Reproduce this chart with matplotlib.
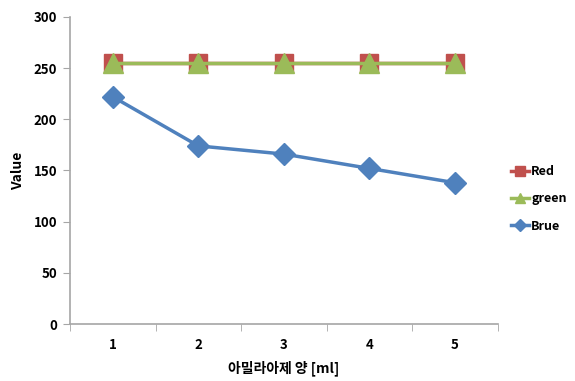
import matplotlib.pyplot as plt
import numpy as np

plt.rcParams['font.family'] = ['Noto Sans CJK KR', 'DejaVu Sans']

# data
amounts = [1, 2, 3, 4, 5]
red = [255, 255, 255, 255, 255]
green = [255, 255, 255, 255, 255]
brue = [222, 174, 166, 152, 138]

fig = plt.figure(figsize=(5.75, 3.81), dpi=100)
ax = fig.add_axes([0.1217, 0.1496, 0.744, 0.806])

ax.plot(amounts, red, color='#C0504D', lw=2.5, marker='s', ms=12.5, label='Red')
ax.plot(amounts, green, color='#9BBB59', lw=2.5, marker='^', ms=14, label='green')
ax.plot(amounts, brue, color='#4F81BD', lw=2.5, marker='D', ms=11, label='Brue')

ax.set_xlim(0.5, 5.5)
ax.set_ylim(0, 300)
ax.set_yticks(np.arange(0, 301, 50))
ax.set_xticks(amounts)
ax.set_xticks(np.arange(0.5, 5.6, 1), minor=True)

for s in ['top', 'right']:
    ax.spines[s].set_visible(False)
for s in ['left', 'bottom']:
    ax.spines[s].set_color('#A6A6A6')
    ax.spines[s].set_linewidth(1.2)

ax.tick_params(axis='x', which='major', length=0, pad=10)
ax.tick_params(axis='x', which='minor', length=5, color='#A6A6A6', direction='out')
ax.tick_params(axis='y', length=5, color='#A6A6A6', pad=4)
for lab in ax.get_xticklabels() + ax.get_yticklabels():
    lab.set_fontweight('bold')
    lab.set_fontsize(9.5)

ax.set_xlabel('아밀라아제 양 [ml]', fontsize=10, fontweight='bold', labelpad=6)
ax.set_ylabel('Value', fontsize=10, fontweight='bold', labelpad=6)

leg = fig.legend(loc='center left', bbox_to_anchor=(0.888, 0.478), frameon=False,
                 prop={'weight': 'bold', 'size': 9}, handlelength=1.5,
                 handletextpad=0.15, labelspacing=1.15, markerscale=0.55,
                 borderpad=0, borderaxespad=0)

fig.savefig('out.png', dpi=100)
